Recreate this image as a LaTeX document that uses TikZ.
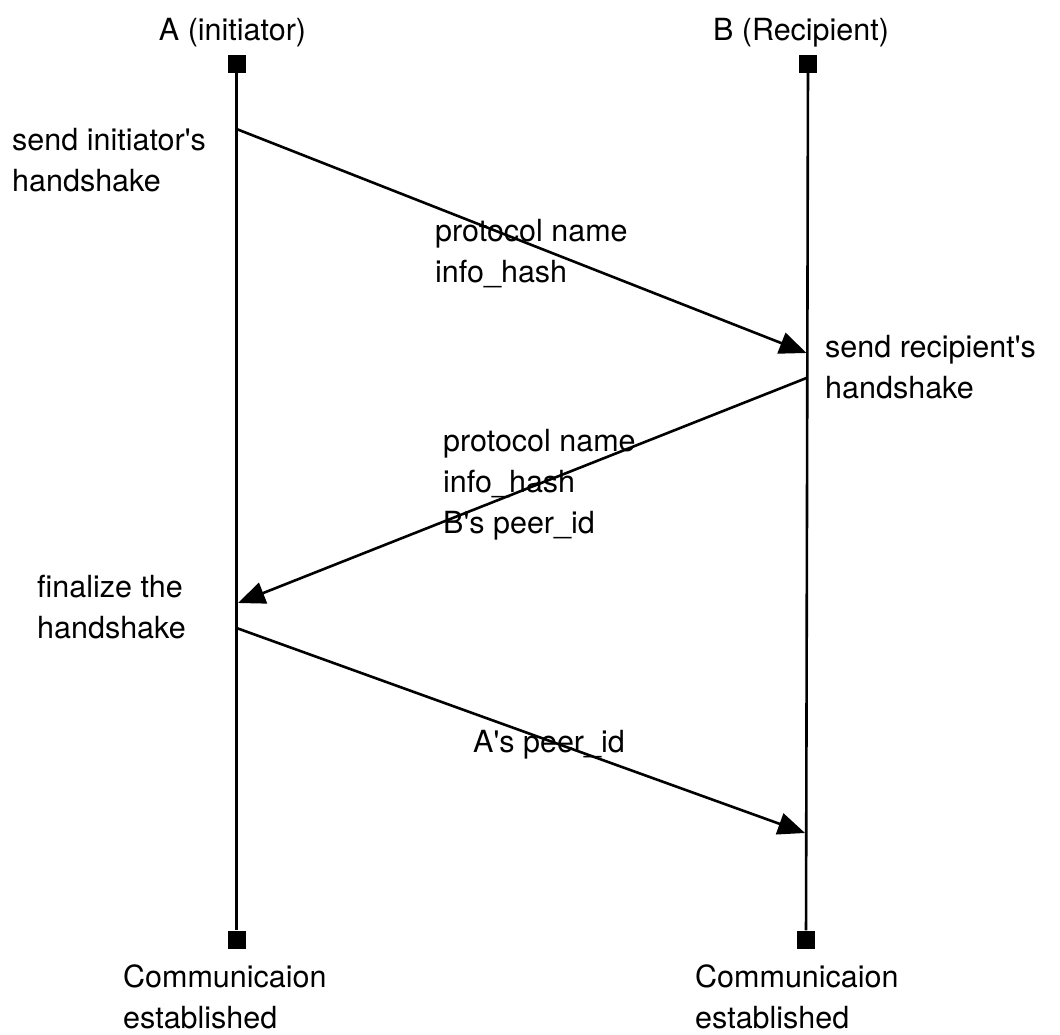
\documentclass[tikz,border=0pt]{standalone}
\usepackage{fontspec}
\setmainfont{TeX Gyre Heros}
\usetikzlibrary{arrows.meta}
\newcommand\apos{\textquotesingle}
\begin{document}
\begin{tikzpicture}[x=1pt,y=-1pt,
  lifeend/.style={draw=none, fill=black, minimum size=18pt, inner sep=0pt},
  lifeline/.style={line width=2.6pt},
  msg/.style={line width=2.6pt, -{Triangle[length=27pt,width=22pt]}},
  txt/.style={inner sep=0pt, font=\fontsize{30.5}{41}\selectfont},
  lbl/.style={txt, anchor=base west, align=left},
  head/.style={txt, anchor=base}]
\useasboundingbox (0,0) rectangle (1060,1035);

% participants
\node[head] (ha) at (232.5,41) {A (initiator)};
\node[head] (hb) at (801,41) {B (Recipient)};

% lifeline ends
\node[lifeend] (aTop) at (236.5,64) {};
\node[lifeend] (aBot) at (236.5,939.5) {};
\node[lifeend] (bTop) at (808,64) {};
\node[lifeend] (bBot) at (806,939.5) {};

% lifelines
\draw[lifeline] (aTop) -- (aBot);
\draw[lifeline] (bTop) -- (bBot);

% message end points on the lifelines
\coordinate (a1) at (236.5,129);
\coordinate (b1) at (806.5,353);
\coordinate (b2) at (806.5,378);
\coordinate (a2) at (238,603);
\coordinate (a3) at (236.5,628);
\coordinate (b3) at (805,833);

% messages
\draw[msg] (a1) -- (b1);
\draw[msg] (b2) -- (a2);
\draw[msg] (a3) -- (b3);

% step labels (placed by the baseline of their last line)
\node[lbl] (s1) at (12,192) {send initiator\apos s\\handshake};
\node[lbl] (m1) at (435,282) {protocol name\\info\_hash};
\node[lbl] (s2) at (825,398) {send recipient\apos s\\handshake};
\node[lbl] (m2) at (443,533) {protocol name\\info\_hash\\B\apos s peer\_id};
\node[lbl] (s3) at (37,638) {finalize the\\handshake};
\node[lbl] (m3) at (473,752) {A\apos s peer\_id};

% final states
\node[lbl] (ea) at (123,1028) {Communicaion\\established};
\node[lbl] (eb) at (695,1028) {Communicaion\\established};
\end{tikzpicture}
\end{document}
